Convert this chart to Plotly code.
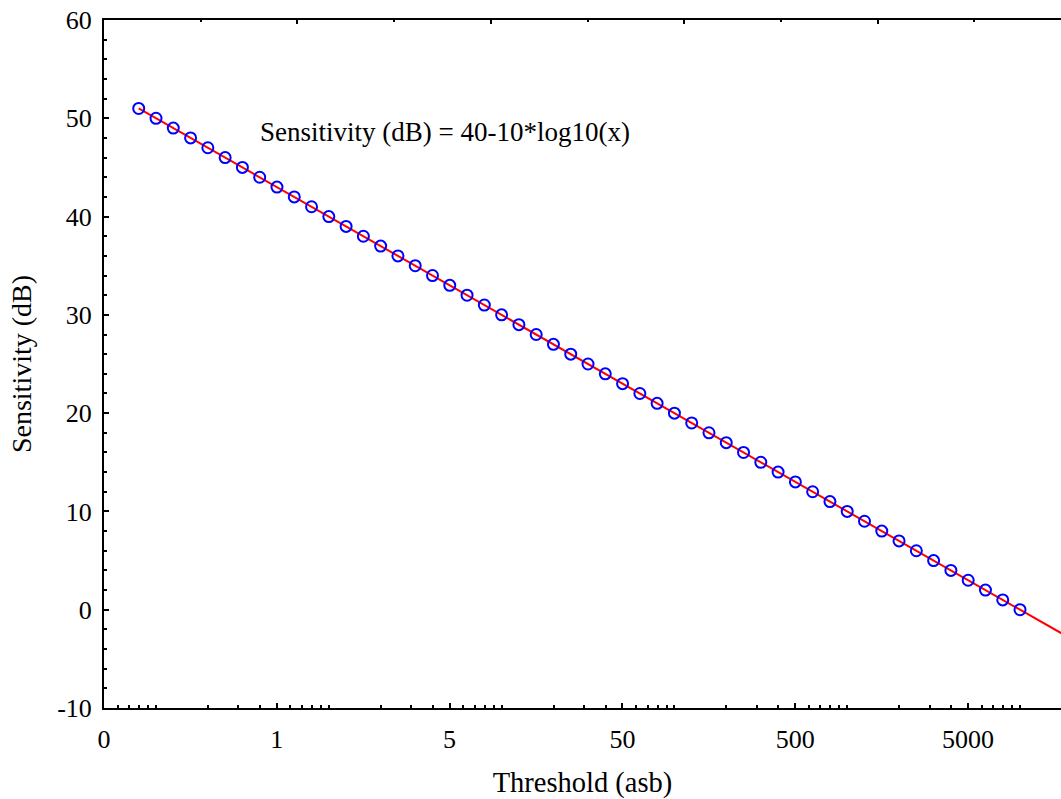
import plotly.graph_objects as go

# Data: sensitivity (dB) vs threshold (asb)
sensitivity_db = [51, 50, 49, 48, 47, 46, 45, 44, 43, 42, 41, 40, 39, 38, 37, 36, 35, 34,
                  33, 32, 31, 30, 29, 28, 27, 26, 25, 24, 23, 22, 21, 20, 19, 18, 17, 16,
                  15, 14, 13, 12, 11, 10, 9, 8, 7, 6, 5, 4, 3, 2, 1, 0]
threshold_asb = [0.0794, 0.1, 0.1259, 0.1585, 0.1995, 0.2512, 0.3162, 0.3981, 0.5012, 0.631, 0.7943,
                 1.0, 1.259, 1.585, 1.995, 2.512, 3.162, 3.981, 5.012, 6.31, 7.943,
                 10.0, 12.59, 15.85, 19.95, 25.12, 31.62, 39.81, 50.12, 63.1, 79.43,
                 100.0, 125.9, 158.5, 199.5, 251.2, 316.2, 398.1, 501.2, 631.0, 794.3,
                 1000.0, 1259.0, 1585.0, 1995.0, 2512.0, 3162.0, 3981.0, 5012.0, 6310.0, 7943.0,
                 10000.0]
fit_x = [0.0794, 20000.0]
fit_y = [51.0, -3.01]

x_tick_vals = [0.05, 0.5, 5, 50, 500, 5000]
x_tick_text = ["0", "1", "5", "50", "500", "5000"]
x_minor_vals = [k * 10.0 ** n for n in range(-2, 5) for k in range(1, 10)]
x_minor_vals = [v for v in x_minor_vals if 0.05 < v < 20000]
y_tick_vals = [-10, 0, 10, 20, 30, 40, 50, 60]
y_tick_text = ["-10", "0", "10", "20", "30", "40", "50", "60"]

annotation_text = "Sensitivity (dB) = 40-10*log10(x)"

FONT = "Liberation Serif"
W, H = 1061, 799
L, T, B = 104, 20, 91
plot_w = W - L
px_per_decade = 172.8
x_lo = -1.30103
x_hi = x_lo + plot_w / px_per_decade
top_hi = plot_w / 96.7

fig = go.Figure()
fig.add_trace(go.Scatter(x=fit_x, y=fit_y, mode="lines",
                         line=dict(color="#FF0000", width=2), showlegend=False, hoverinfo="skip"))
fig.add_trace(go.Scatter(x=threshold_asb, y=sensitivity_db, mode="markers",
                         marker=dict(symbol="circle-open", size=11, color="#0000FF",
                                     line=dict(width=2, color="#0000FF")),
                         showlegend=False))
fig.add_trace(go.Scatter(x=[0, top_hi], y=[None, None], xaxis="x2", mode="lines",
                         showlegend=False, hoverinfo="skip"))

fig.update_layout(
    width=W, height=H,
    margin=dict(l=L, r=0, t=T, b=B),
    plot_bgcolor="white", paper_bgcolor="white",
    font=dict(family=FONT, size=26, color="black"),
    xaxis=dict(type="log", range=[x_lo, x_hi], showgrid=False, zeroline=False,
               showline=True, linecolor="black", linewidth=2,
               tickmode="array", tickvals=x_tick_vals, ticktext=x_tick_text,
               ticks="inside", ticklen=5, tickwidth=1.5, tickcolor="black",
               tickfont=dict(family=FONT, size=26), ticklabelstandoff=7,
               minor=dict(tickvals=x_minor_vals, ticks="inside", ticklen=3,
                          tickwidth=1.5, tickcolor="black", showgrid=False),
               title=dict(text="Threshold (asb)", font=dict(family=FONT, size=28.5), standoff=19)),
    xaxis2=dict(overlaying="x", side="top", range=[0, top_hi], showgrid=False, zeroline=False,
                showline=True, linecolor="black", linewidth=2, showticklabels=False,
                dtick=2, tick0=0, ticks="inside", ticklen=4, tickwidth=1.5, tickcolor="black",
                minor=dict(dtick=1, ticks="inside", ticklen=2, tickwidth=1.5, tickcolor="black",
                           showgrid=False)),
    yaxis=dict(range=[-10, 60], showgrid=False, zeroline=False,
               showline=True, linecolor="black", linewidth=2,
               tickmode="array", tickvals=y_tick_vals, ticktext=y_tick_text,
               ticks="inside", ticklen=5, tickwidth=1.5, tickcolor="black",
               tickfont=dict(family=FONT, size=26), ticklabelstandoff=5,
               minor=dict(dtick=2, tick0=0, ticks="inside", ticklen=3, tickwidth=1.5,
                          tickcolor="black", showgrid=False),
               title=dict(text="Sensitivity (dB)", font=dict(family=FONT, size=28), standoff=17)),
    annotations=[dict(text=annotation_text, xref="paper", yref="paper",
                      x=(258 - L) / plot_w, y=(708 - 132) / 688, xanchor="left", yanchor="middle",
                      showarrow=False, font=dict(family=FONT, size=27, color="black"))],
)

fig.write_html("out.html", config={"displayModeBar": False},
               post_script="document.body.style.margin='0px';document.body.style.overflow='hidden';")
